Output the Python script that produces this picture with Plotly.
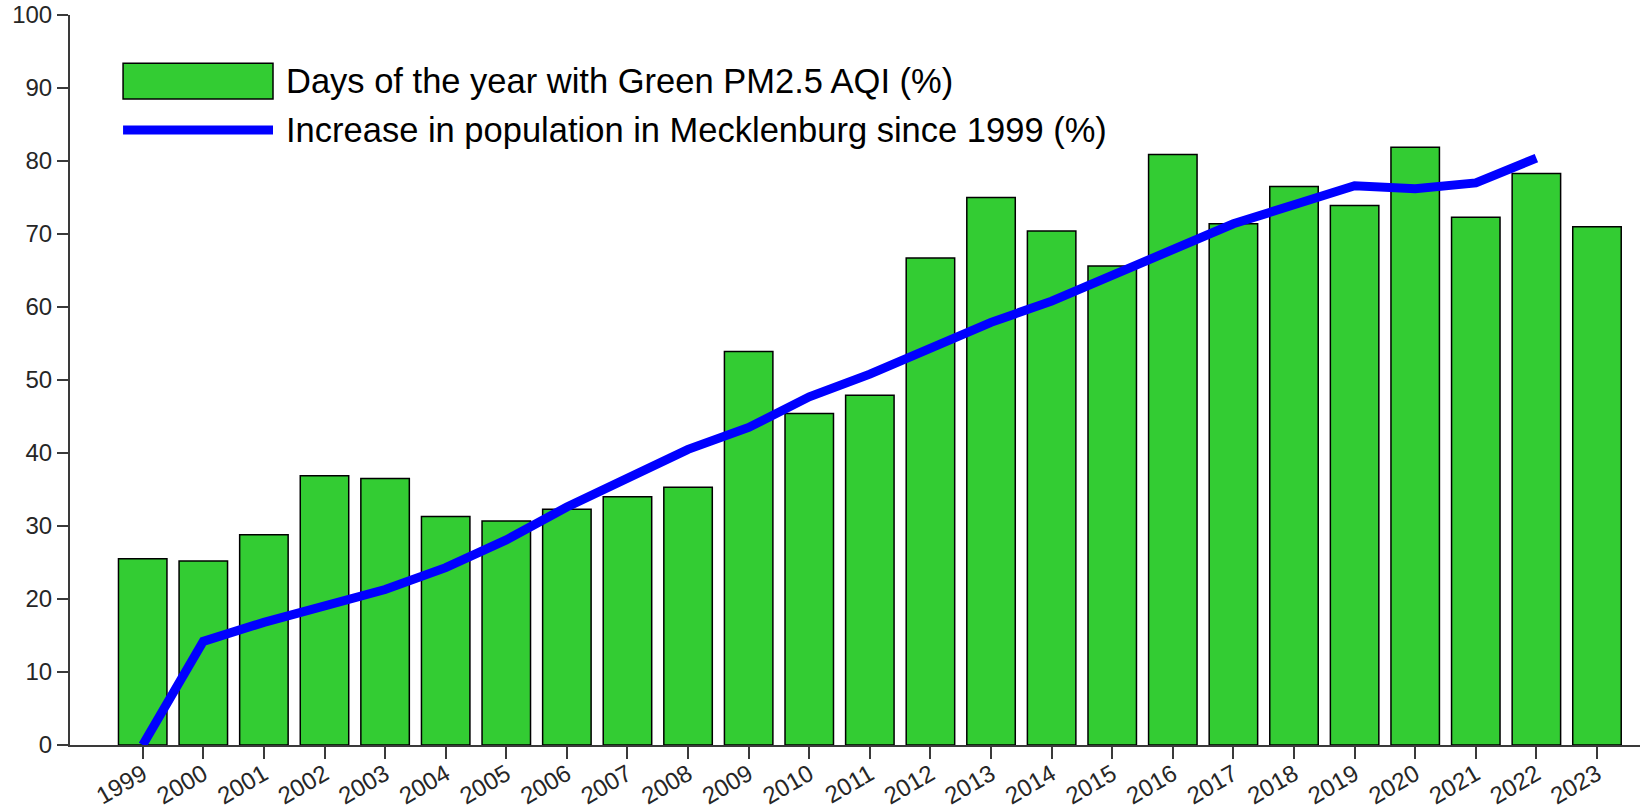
import plotly.graph_objects as go

years = list(range(1999, 2024))
green_days_pct = [25.5, 25.2, 28.8, 36.9, 36.5, 31.3, 30.7, 32.3, 34.0, 35.3,
                  53.9, 45.4, 47.9, 66.7, 75.0, 70.4, 65.6, 80.9, 71.4, 76.5,
                  73.9, 81.9, 72.3, 78.3, 71.0]
pop_years = list(range(1999, 2023))
pop_increase_pct = [0.0, 14.2, 16.8, 18.9, 21.3, 24.3, 28.1, 32.6, 36.7, 40.5,
                    43.5, 47.7, 50.8, 54.4, 57.9, 60.8, 64.3, 68.0, 71.4, 74.0,
                    76.6, 76.2, 77.0, 80.4]
y_ticks = list(range(0, 101, 10))
bar_label = "Days of the year with Green PM2.5 AQI (%)"
line_label = "Increase in population in Mecklenburg since 1999 (%)"

GREEN = "#33CC33"
BLUE = "#0000FF"
AXC = "#262626"
FONT = "Arial, Liberation Sans, sans-serif"

fig = go.Figure()
fig.add_trace(go.Bar(x=years, y=green_days_pct, width=0.8, name=bar_label,
                     marker=dict(color=GREEN, line=dict(color="#000000", width=1.5)),
                     showlegend=False))
fig.add_trace(go.Scatter(x=pop_years, y=pop_increase_pct, mode="lines", name=line_label,
                         line=dict(color=BLUE, width=9), showlegend=False))

# manual legend (large swatches as in the reference)
fig.add_shape(type="rect", xref="paper", yref="paper", x0=0.0338, x1=0.1293, y0=0.885, y1=0.934,
              fillcolor=GREEN, line=dict(color="#000000", width=1.5))
fig.add_shape(type="line", xref="paper", yref="paper", x0=0.0338, x1=0.1293, y0=0.8425, y1=0.8425,
              line=dict(color=BLUE, width=9))
fig.add_annotation(xref="paper", yref="paper", x=0.1365, y=0.9096, text=bar_label, showarrow=False,
                   xanchor="left", yanchor="middle", font=dict(family=FONT, size=34.5, color="#000000"))
fig.add_annotation(xref="paper", yref="paper", x=0.1365, y=0.8425, text=line_label, showarrow=False,
                   xanchor="left", yanchor="middle", font=dict(family=FONT, size=34.5, color="#000000"))

fig.update_layout(
    width=1641, height=812,
    margin=dict(l=70, r=1, t=15, b=67),
    paper_bgcolor="white", plot_bgcolor="white",
    font=dict(family=FONT, color=AXC),
    xaxis=dict(range=[1997.8, 2023.71], tickvals=years, ticktext=[str(y) for y in years],
               tickangle=-30, ticks="outside", ticklen=12, tickwidth=2, tickcolor="#3a3a3a",
               showline=True, linecolor="#3a3a3a", linewidth=2, showgrid=False, zeroline=False,
               tickfont=dict(size=24, color=AXC), automargin=False, ticklabelstandoff=-8),
    yaxis=dict(range=[0, 100], tickvals=y_ticks, ticks="outside", ticklen=11, tickwidth=2,
               tickcolor="#3a3a3a", showline=True, linecolor="#3a3a3a", linewidth=2, showgrid=False,
               zeroline=False, tickfont=dict(size=24, color=AXC), automargin=False),
    bargap=0.2,
)

fig.write_html("out.html", config={"displayModeBar": False},
               post_script="document.body.style.margin='0';document.body.style.overflow='hidden';")
